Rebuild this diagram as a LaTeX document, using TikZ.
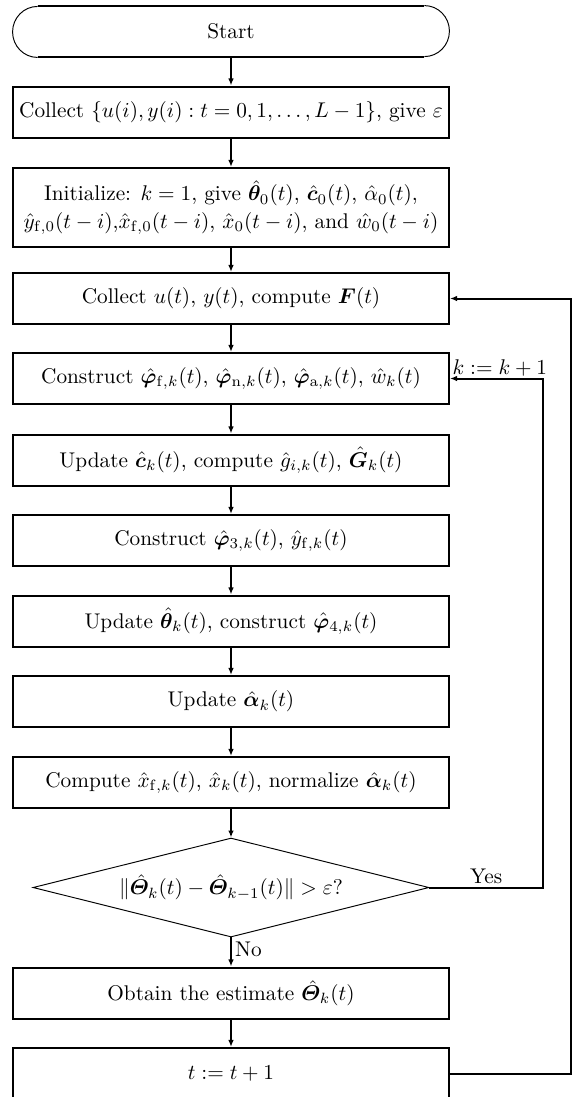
\documentclass[tikz,border=0pt]{standalone}
\usepackage{amsmath,amssymb,bm}
\usetikzlibrary{arrows.meta,shapes.geometric}

\begin{document}
\def\u{0.47pt}
\begin{tikzpicture}[x=0.47pt,y=-0.47pt,
  boxline/.style={line width=0.95pt},
  thinline/.style={line width=0.45pt},
  procbox/.style={draw,boxline,rectangle,inner sep=0pt,
    minimum width=436*\u,minimum height=51*\u,align=center},
  tallbox/.style={procbox,minimum height=79*\u},
  decbox/.style={draw,thinline,diamond,inner sep=0pt,aspect=4,
    minimum width=396*\u,minimum height=99*\u},
  flow/.style={boxline,-{Latex[length=3.3pt,width=2.6pt]}},
  lbl/.style={inner sep=1.5pt}]
\useasboundingbox (0,0) rectangle (574,1097);

% terminal node: straight edges plus thin end caps
\node[rectangle,inner sep=0pt,minimum width=436*\u,minimum height=51*\u] (start) at (231,31.5) {Start};
\coordinate (sTL) at ([xshift=25*\u]start.north west);
\coordinate (sTR) at ([xshift=-25*\u]start.north east);
\coordinate (sBL) at ([xshift=25*\u]start.south west);
\coordinate (sBR) at ([xshift=-25*\u]start.south east);
\draw[boxline] (sTL) -- (sTR);
\draw[boxline] (sBL) -- (sBR);
\draw[thinline] (sTR) arc[start angle=90,end angle=-90,x radius=11.75pt,y radius=11.985pt];
\draw[thinline] (sBL) arc[start angle=270,end angle=90,x radius=11.75pt,y radius=11.985pt];

\node[procbox] (collect) at (231,112) {Collect $\{u(i), y(i): t=0,1,\ldots,L-1\}$, give $\varepsilon$};
\node[tallbox] (init) at (231,207.5) {Initialize: $k=1$, give $\hat{\boldsymbol{\theta}}_0(t)$, $\hat{\boldsymbol{c}}_0(t)$, $\hat{\alpha}_0(t)$,\\[1pt]
  $\hat{y}_{\mathrm{f},0}(t-i)$,$\hat{x}_{\mathrm{f},0}(t-i)$, $\hat{x}_0(t-i)$, and $\hat{w}_0(t-i)$};
\node[procbox] (coll) at (231,298.5) {Collect $u(t)$, $y(t)$, compute $\boldsymbol{F}(t)$};
\node[procbox] (cphi) at (231,378.5) {Construct $\hat{\boldsymbol{\varphi}}_{\mathrm{f},k}(t)$, $\hat{\boldsymbol{\varphi}}_{\mathrm{n},k}(t)$, $\hat{\boldsymbol{\varphi}}_{\mathrm{a},k}(t)$, $\hat{w}_k(t)$};
\node[procbox] (upc) at (231,460) {Update $\hat{\boldsymbol{c}}_k(t)$, compute $\hat{g}_{i,k}(t)$, $\hat{\boldsymbol{G}}_k(t)$};
\node[procbox] (cphith) at (231,540.5) {Construct $\hat{\boldsymbol{\varphi}}_{3,k}(t)$, $\hat{y}_{\mathrm{f},k}(t)$};
\node[procbox] (upth) at (231,621) {Update $\hat{\boldsymbol{\theta}}_k(t)$, construct $\hat{\boldsymbol{\varphi}}_{4,k}(t)$};
\node[procbox] (upal) at (231,701.5) {Update $\hat{\boldsymbol{\alpha}}_k(t)$};
\node[procbox] (comp) at (231,782.5) {Compute $\hat{x}_{\mathrm{f},k}(t)$, $\hat{x}_k(t)$, normalize $\hat{\boldsymbol{\alpha}}_k(t)$};
\node[decbox] (dec) at (231,887.5) {$\|\hat{\boldsymbol{\varTheta}}_k(t)-\hat{\boldsymbol{\varTheta}}_{k-1}(t)\|>\varepsilon$?};
\node[procbox] (obt) at (231,993) {Obtain the estimate $\hat{\boldsymbol{\varTheta}}_k(t)$};
\node[procbox] (inc) at (231,1073.5) {$t:=t+1$};

% main downward flow
\draw[flow] (start.south) -- (collect.north);
\draw[flow] (collect.south) -- (init.north);
\draw[flow] (init.south) -- (coll.north);
\draw[flow] (coll.south) -- (cphi.north);
\draw[flow] (cphi.south) -- (upc.north);
\draw[flow] (upc.south) -- (cphith.north);
\draw[flow] (cphith.south) -- (upth.north);
\draw[flow] (upth.south) -- (upal.north);
\draw[flow] (upal.south) -- (comp.north);
\draw[flow] (comp.south) -- (dec.north);
\draw[flow] (dec.south) -- node[lbl,right,pos=0.42] {No} (obt.north);
\draw[flow] (obt.south) -- (inc.north);

% inner loop over k
\coordinate (kx) at (543,0);
\draw[flow] (dec.east) -- node[lbl,above] {Yes} (dec.east -| kx) -- (kx |- cphi.east) -- (cphi.east);
\node[lbl,anchor=south west,inner sep=1pt] at (cphi.east) {$k:=k+1$};

% outer loop over t
\coordinate (tx) at (571,0);
\draw[flow] (inc.east) -- (inc.east -| tx) -- (tx |- coll.east) -- (coll.east);
\end{tikzpicture}
\end{document}
